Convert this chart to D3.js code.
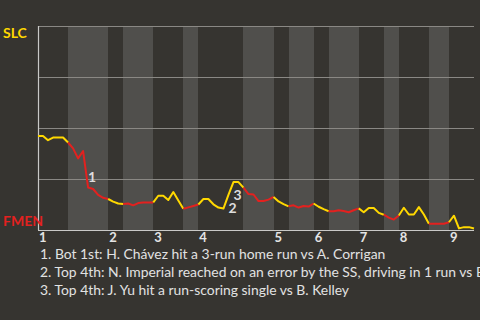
<!DOCTYPE html>
<html lang="en">
<head>
    <meta charset="UTF-8">
    <title>Win probability SLC vs FMEN</title>
    <script src="https://d3js.org/d3.v7.min.js"></script>
    <style>
        html, body {
            margin: 0;
            padding: 0;
            background: #363430;
            overflow: hidden;
        }

        svg {
            display: block;
            font-family: Lato, "Open Sans", sans-serif;
        }

        .grid line {
            stroke: #8a8884;
            stroke-width: 1;
        }

        .axis-line {
            stroke: #c9c9c7;
            stroke-width: 1.2;
        }

        .inning-label {
            font-size: 13px;
            font-weight: bold;
            fill: #e4e4e4;
        }

        .note-mark {
            font-size: 14px;
            font-weight: bold;
            fill: #dddddd;
        }

        .note-text {
            font-size: 13.9px;
            fill: #e2e2e2;
        }

        .team-label {
            font-size: 14px;
            font-weight: bold;
        }
    </style>
</head>
<body>
    <svg id="chart" width="480" height="320"></svg>
    <script>
        // teams: away (top of the axis) and home (bottom)
        const teamNames = ["SLC", "FMEN"];
        const teamColors = ["#ffd800", "#e3211f"];

        const innings = ["1", "2", "3", "4", "5", "6", "7", "8", "9"];
        // events in each half inning, top 1st, bot 1st, top 2nd ...
        const halfLengths = [6, 8, 3, 6, 6, 3, 9, 6, 3, 5, 3, 6, 5, 3, 6, 4, 5];

        // SLC win probability (%) after each event
        const slcWinPct = [
            46.1, 46.1, 44.0, 45.3, 45.3, 45.3, 42.9, 40.0, 35.1, 38.7,
            20.8, 20.1, 17.2, 15.8, 15.2, 13.9, 13.0, 12.7, 13.0, 12.1,
            13.2, 13.5, 13.5, 13.5, 16.8, 16.8, 14.7, 18.6, 14.5, 10.4,
            11.1, 11.8, 12.5, 15.2, 15.2, 12.6, 11.0, 10.5, 17.2, 23.5,
            23.5, 20.8, 17.6, 17.4, 14.2, 14.2, 14.9, 16.2, 14.0, 12.7,
            11.6, 12.1, 11.0, 11.8, 11.5, 13.0, 11.4, 10.2, 9.2, 9.2,
            9.7, 9.3, 8.7, 9.7, 10.6, 8.7, 10.8, 10.8, 8.4, 7.5,
            6.1, 5.1, 7.1, 10.9, 7.6, 7.6, 11.2, 7.6, 3.1, 3.1,
            3.1, 3.1, 3.8, 7.0, 0.8, 1.4, 1.4, 0.7
        ];

        const gridTicks = [25, 50, 75, 100];

        // key plays
        const noteEvents = [10, 38, 39];
        const noteTexts = [
            "Bot 1st: H. Chávez hit a 3-run home run vs A. Corrigan",
            "Top 4th: N. Imperial reached on an error by the SS, driving in 1 run vs B. Kelley",
            "Top 4th: J. Yu hit a run-scoring single vs B. Kelley"
        ];

        const margin = { top: 26, right: 6, bottom: 90, left: 38 };
        const width = 480;
        const height = 320;

        const svg = d3.select("#chart");

        const halfStarts = [0, ...d3.cumsum(halfLengths)];
        const nEvents = halfStarts[halfStarts.length - 1];

        const x = d3.scaleLinear()
            .domain([0, nEvents])
            .range([margin.left, width - margin.right]);

        const y = d3.scaleLinear()
            .domain([0, 100])
            .range([height - margin.bottom, margin.top]);

        // bottom halves shaded
        svg.append("g")
            .selectAll("rect")
            .data(halfLengths.map((len, i) => ({ start: halfStarts[i], end: halfStarts[i + 1], bottom: i % 2 === 1 })).filter(d => d.bottom))
            .enter().append("rect")
            .attr("x", d => Math.round(x(d.start)))
            .attr("y", y(100))
            .attr("width", d => Math.round(x(d.end)) - Math.round(x(d.start)))
            .attr("height", y(0) - y(100))
            .attr("fill", "#504f4c");

        // grid
        svg.append("g")
            .attr("class", "grid")
            .selectAll("line")
            .data(gridTicks)
            .enter().append("line")
            .attr("x1", x(0))
            .attr("x2", x(nEvents))
            .attr("y1", d => Math.round(y(d)) + 0.5)
            .attr("y2", d => Math.round(y(d)) + 0.5);

        svg.append("line")
            .attr("class", "axis-line")
            .attr("x1", x(0) + 0.5)
            .attr("x2", x(0) + 0.5)
            .attr("y1", y(100))
            .attr("y2", y(0));

        svg.append("line")
            .attr("class", "axis-line")
            .attr("x1", x(0))
            .attr("x2", x(nEvents))
            .attr("y1", y(0) + 0.5)
            .attr("y2", y(0) + 0.5);

        // inning labels at the start of each top half
        svg.append("g")
            .selectAll("text")
            .data(innings)
            .enter().append("text")
            .attr("class", "inning-label")
            .attr("x", (d, i) => x(halfStarts[i * 2]) + 1)
            .attr("y", y(0) + 12)
            .text(d => d);

        // line, one piece per half inning
        const line = d3.line()
            .x(d => x(d))
            .y(d => y(slcWinPct[d]));

        svg.append("g")
            .selectAll("path")
            .data(halfLengths.map((len, i) => d3.range(halfStarts[i], halfStarts[i + 1] + 1)))
            .enter().append("path")
            .attr("d", line)
            .attr("fill", "none")
            .attr("stroke", (d, i) => teamColors[i % 2])
            .attr("stroke-width", 2)
            .attr("stroke-linejoin", "round");

        // play markers
        svg.append("g")
            .selectAll("text")
            .data(noteEvents)
            .enter().append("text")
            .attr("class", "note-mark")
            .attr("x", d => x(d))
            .attr("y", d => y(slcWinPct[d]))
            .attr("dy", d => slcWinPct[d] < slcWinPct[d - 1] ? -6 : 18)
            .text((d, i) => i + 1);

        // team names
        svg.append("text")
            .attr("class", "team-label")
            .attr("x", 3)
            .attr("y", y(100) + 12)
            .attr("fill", teamColors[0])
            .text(teamNames[0]);

        svg.append("text")
            .attr("class", "team-label")
            .attr("x", 3)
            .attr("y", y(0) - 4)
            .attr("fill", teamColors[1])
            .text(teamNames[1]);

        // notes below
        svg.append("g")
            .selectAll("text")
            .data(noteTexts)
            .enter().append("text")
            .attr("class", "note-text")
            .attr("x", 40)
            .attr("y", (d, i) => y(0) + 29 + i * 18)
            .text((d, i) => `${i + 1}. ${d}`);
    </script>
</body>
</html>
